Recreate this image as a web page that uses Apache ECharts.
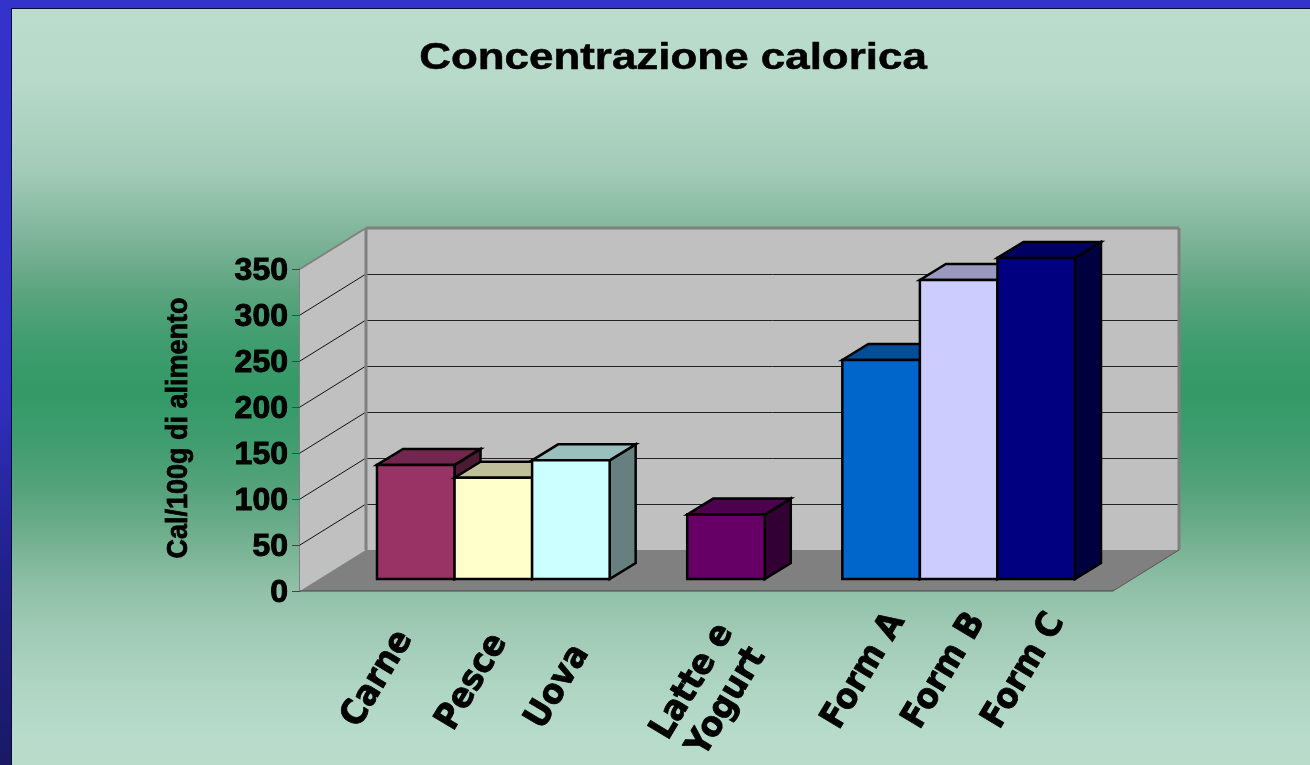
<!DOCTYPE html>
<html>
<head>
<meta charset="utf-8">
<title>Concentrazione calorica</title>
<style>
  html, body { margin: 0; padding: 0; background: #3333cc; }
  #chart { width: 1310px; height: 765px; }
</style>
<script src="https://cdn.jsdelivr.net/npm/echarts@6/dist/echarts.min.js"></script>
</head>
<body>
<div id="chart"></div>
<script>
  var chartTitle = 'Concentrazione calorica'
  var yAxisName = 'Cal/100g di alimento'
  var categories = ['Carne', 'Pesce', 'Uova', '', 'Latte e\nYogurt', '', 'Form A', 'Form B', 'Form C']
  var calories = [124, 110, 129, null, 70, null, 238, 325, 349]
  var barColors = ['#993366', '#ffffcc', '#ccffff', null, '#660066', null, '#0066cc', '#ccccff', '#000080']
  var yTicks = [0, 50, 100, 150, 200, 250, 300, 350]

  /** category label centre relative to the slot on the axis, the source spaces them unevenly */
  var labelShift = [[-38, 100], [-21, 103], [-13, 108], [0, 0], [-16, 113], [0, 0], [-17, 92], [-14, 92], [-12, 92]]

  var LABEL_ROTATE = 59
  var WALL_DX = 66
  var WALL_DY = -41
  var BAR_DX = 26
  var BAR_DY = -16

  function shade(hex, k) {
    var n = parseInt(hex.slice(1), 16)
    var r = Math.round((n >> 16 & 255) * k)
    var g = Math.round((n >> 8 & 255) * k)
    var b = Math.round((n & 255) * k)
    return 'rgb(' + r + ',' + g + ',' + b + ')'
  }

  function poly(points, fill, stroke, width) {
    return {
      type: 'polygon',
      shape: { points: points },
      style: { fill: fill, stroke: stroke || 'none', lineWidth: width || 0, lineJoin: 'miter' }
    }
  }

  function line(p0, p1, stroke, width) {
    return {
      type: 'line',
      shape: { x1: p0[0], y1: p0[1], x2: p1[0], y2: p1[1] },
      style: { stroke: stroke, lineWidth: width }
    }
  }

  /** back wall, side wall, floor and the grid lines that run over them */
  function renderWalls(params, api) {
    var top = yTicks[yTicks.length - 1]
    var fl = api.coord([0, 0])
    var fr = api.coord([1, 0])
    var tl = api.coord([0, top])
    var back = function(p) { return [p[0] + WALL_DX, p[1] + WALL_DY] }
    var children = [
      poly([tl, back(tl), back(fl), fl], '#c0c0c0'),
      poly([back(tl), back([fr[0], tl[1]]), back(fr), back(fl)], '#c0c0c0'),
      poly([fl, back(fl), back(fr), fr], '#808080')
    ]
    yTicks.slice(1, -1).forEach(function(v) {
      var p = api.coord([0, v])
      var q = api.coord([1, v])
      var by = Math.round(p[1] + WALL_DY) + 0.5
      children.push(line(p, back(p), '#111', 1))
      children.push(line([p[0] + WALL_DX, by], [q[0] + WALL_DX, by], '#222', 1))
    })
    children.push(line(tl, back(tl), '#808080', 2))
    children.push(line(back(tl), back(fl), '#808080', 3))
    children.push(line(back(tl), back([fr[0], tl[1]]), '#808080', 3))
    children.push(line(back([fr[0], tl[1]]), back(fr), '#808080', 3))
    children.push(line(fr, back(fr), '#555', 1))
    children.push(line(fl, fr, '#444', 1))
    return { type: 'group', children: children }
  }

  /** one box: front face, top and right side, all from the axis scales */
  function renderBar(params, api) {
    var v = api.value(1)
    var i = api.value(0)
    if (isNaN(v)) return
    var base = api.coord([i, 0])
    var head = api.coord([i, v])
    var w = api.size([1, 0])[0]
    var x0 = base[0] - w / 2
    var x1 = base[0] + w / 2
    var yT = head[1]
    var yB = base[1]
    var c = barColors[i]
    return {
      type: 'group',
      children: [
        poly([[x1, yT], [x1 + BAR_DX, yT + BAR_DY], [x1 + BAR_DX, yB + BAR_DY], [x1, yB]], shade(c, 0.5), '#000', 2.5),
        poly([[x0, yT], [x0 + BAR_DX, yT + BAR_DY], [x1 + BAR_DX, yT + BAR_DY], [x1, yT]], shade(c, 0.75), '#000', 2.5),
        poly([[x0, yT], [x1, yT], [x1, yB], [x0, yB]], c, '#000', 2.5)
      ]
    }
  }

  /** axis labels can not be nudged one by one, so they go through a custom series */
  function renderCategoryLabel(params, api) {
    var i = api.value(0)
    if (!categories[i]) return
    var p = api.coord([i, 0])
    return {
      type: 'text',
      x: p[0] + labelShift[i][0],
      y: p[1] + labelShift[i][1],
      rotation: LABEL_ROTATE * Math.PI / 180,
      scaleX: 0.92,
      style: {
        text: categories[i],
        fill: '#000',
        stroke: '#000',
        lineWidth: 0.8,
        font: 'bold 35px "DejaVu Sans"',
        lineHeight: 40,
        textAlign: 'center',
        textVerticalAlign: 'middle'
      }
    }
  }

  var chart = echarts.init(document.getElementById('chart'))
  chart.setOption({
    animation: false,
    backgroundColor: '#3333cc',
    graphic: [
      {
        type: 'rect',
        z: -10,
        shape: { x: 0, y: 0, width: 12, height: 765 },
        style: {
          fill: new echarts.graphic.LinearGradient(0, 0, 0, 1, [
            { offset: 0, color: '#3333cc' },
            { offset: 0.5, color: '#3030c0' },
            { offset: 0.75, color: '#20208a' },
            { offset: 1, color: '#191966' }
          ])
        }
      },
      {
        type: 'rect',
        z: -10,
        shape: { x: 11, y: 8, width: 1299, height: 757 },
        style: { fill: '#0a0a30' }
      },
      {
        type: 'rect',
        z: -10,
        shape: { x: 12, y: 9, width: 1298, height: 756 },
        style: {
          fill: new echarts.graphic.LinearGradient(0, 0, 0, 1, [
            { offset: 0, color: '#bbddcd' },
            { offset: 0.1, color: '#b6d9c9' },
            { offset: 0.213, color: '#a3cbb8' },
            { offset: 0.311, color: '#7bb296' },
            { offset: 0.376, color: '#5aa47e' },
            { offset: 0.439, color: '#409d6f' },
            { offset: 0.504, color: '#339966' },
            { offset: 0.57, color: '#3f9d6f' },
            { offset: 0.634, color: '#55a27b' },
            { offset: 0.697, color: '#70af8e' },
            { offset: 0.762, color: '#8fbfa6' },
            { offset: 0.827, color: '#a1cbb6' },
            { offset: 0.892, color: '#aed4c2' },
            { offset: 0.956, color: '#b7dbca' },
            { offset: 1, color: '#b9dccb' }
          ])
        }
      },
      {
        type: 'text',
        x: 673,
        y: 59,
        scaleX: 1.22,
        style: {
          text: chartTitle,
          fill: '#000',
          stroke: '#000',
          lineWidth: 0.5,
          font: 'bold 36px "Liberation Sans"',
          textAlign: 'center',
          textVerticalAlign: 'middle'
        }
      },
      {
        type: 'text',
        x: 179,
        y: 428,
        rotation: Math.PI / 2,
        scaleX: 0.9,
        style: {
          text: yAxisName,
          fill: '#000',
          stroke: '#000',
          lineWidth: 0.8,
          font: 'bold 30px "Liberation Sans"',
          textAlign: 'center',
          textVerticalAlign: 'middle'
        }
      }
    ],
    grid: [
      { left: 300, top: 269, width: 813, height: 322, outerBoundsMode: 'none' },
      { left: 377, top: 257, width: 698, height: 322, outerBoundsMode: 'none' }
    ],
    xAxis: [
      { gridIndex: 0, type: 'value', min: 0, max: 1, show: false },
      {
        gridIndex: 1,
        type: 'category',
        data: categories,
        axisLine: { show: false },
        axisTick: { show: false },
        axisLabel: { show: false }
      }
    ],
    yAxis: [
      {
        gridIndex: 0,
        type: 'value',
        min: 0,
        max: 350,
        interval: 50,
        axisLine: { show: true, lineStyle: { color: '#808080', width: 2 } },
        axisTick: { show: true, length: 8, lineStyle: { color: '#444', width: 1 } },
        splitLine: { show: false },
        axisLabel: {
          margin: 12,
          verticalAlign: 'top',
          lineHeight: 5,
          color: '#000',
          fontFamily: 'Liberation Sans',
          fontWeight: 'bold',
          fontSize: 32,
          textBorderColor: '#000',
          textBorderWidth: 1
        }
      },
      { gridIndex: 1, type: 'value', min: 0, max: 350, show: false }
    ],
    series: [
      {
        type: 'custom',
        xAxisIndex: 0,
        yAxisIndex: 0,
        silent: true,
        z: 1,
        clip: false,
        renderItem: renderWalls,
        data: [[0, 0]]
      },
      {
        type: 'custom',
        name: yAxisName,
        xAxisIndex: 1,
        yAxisIndex: 1,
        z: 3,
        clip: false,
        renderItem: renderBar,
        encode: { x: 0, y: 1 },
        data: calories.map(function(v, i) { return [i, v === null ? '-' : v] })
      },
      {
        type: 'custom',
        xAxisIndex: 1,
        yAxisIndex: 1,
        silent: true,
        z: 4,
        clip: false,
        renderItem: renderCategoryLabel,
        encode: { x: 0, y: 1 },
        data: categories.map(function(name, i) { return [i, 0] })
      }
    ]
  })
</script>
</body>
</html>
